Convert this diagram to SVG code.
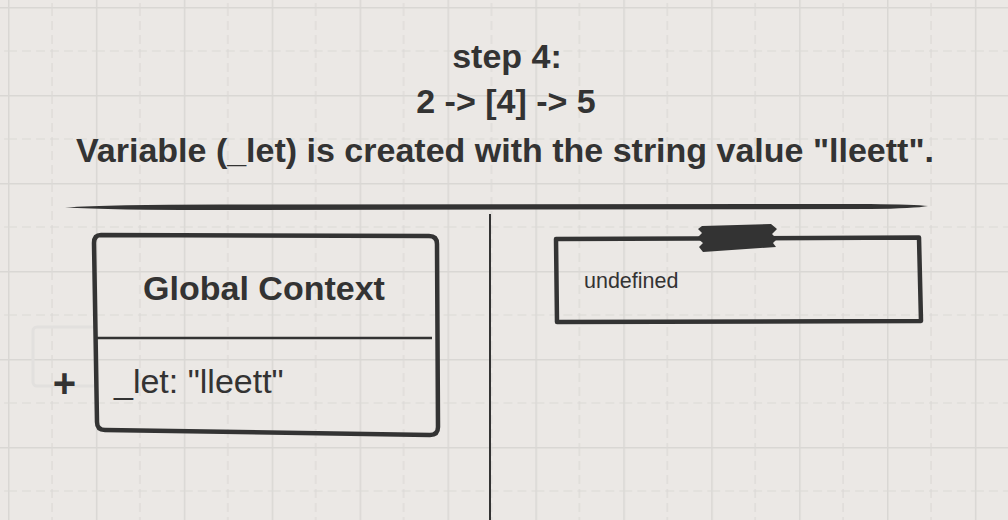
<svg xmlns="http://www.w3.org/2000/svg" width="1008" height="520" viewBox="0 0 1008 520">
<style>
.t{font-family:"Liberation Sans",Arial,sans-serif;fill:#333}
.b{font-weight:bold}
.ink{fill:none;stroke:#333;stroke-linejoin:round;stroke-linecap:round}
</style>
<defs>
<pattern id="grid" patternUnits="userSpaceOnUse" x="8" y="7" width="87.9" height="88">
<path d="M0.75,0V88M0,0.75H88" stroke="#d9d7d4" stroke-width="1.5" fill="none"/>
<path d="M44,0V88M0,44H88" stroke="#dbd9d6" stroke-width="1.2" stroke-dasharray="9 5" fill="none"/>
</pattern>
</defs>
<rect width="1008" height="520" fill="#ebe8e5"/>
<rect width="1008" height="520" fill="url(#grid)"/>

<g id="title">
<text class="t b" x="507" y="68" font-size="34" text-anchor="middle">step 4:</text>
<text class="t b" x="506" y="113" font-size="34" text-anchor="middle">2 -&gt; [4] -&gt; 5</text>
<text class="t b" x="505" y="162" font-size="34" text-anchor="middle">Variable (_let) is created with the string value "lleett".</text>
</g>

<g id="connectors">
<path d="M65,207.5 Q110,204.5 220,204.5 L870,204 Q915,204.5 928,206 Q915,208.5 870,209 L220,210 Q110,210 65,207.5 Z" fill="#333"/>
<line x1="490" y1="214" x2="490" y2="520" stroke="#333" stroke-width="2"/>
</g>

<g id="plus-marker">
<rect x="33" y="327" width="64" height="59" rx="4" fill="none" stroke="#e2e0de" stroke-width="3"/>
<text class="t b" x="64.5" y="397" font-size="40" text-anchor="middle">+</text>
</g>

<g id="global-context">
<path class="ink" stroke-width="4.5" d="M101,235 L429,236 Q437,236 437,244 L438,427 Q438,435 430,435 L105,430 Q97,430 97,422 L94,243 Q94,235 101,235 Z"/>
<line x1="97" y1="338" x2="432" y2="338" stroke="#333" stroke-width="2.5"/>
<text class="t b" x="264" y="300" font-size="34" text-anchor="middle">Global Context</text>
<text class="t" x="114" y="393" font-size="34">_let: "lleett"</text>
</g>

<g id="undefined-box">
<path class="ink" stroke-width="4.5" d="M556,239 L919,237.5 L921,321 L557,322 Z"/>
<path d="M702,226 L771,224 L777,229 L772,234 L777,239 L773,243 L776,247 L703,252 L699,247 L703,243 L697,238 L702,233 L698,229 Z" fill="#333"/>
<text class="t" x="584" y="288" font-size="21.5">undefined</text>
</g>
</svg>
